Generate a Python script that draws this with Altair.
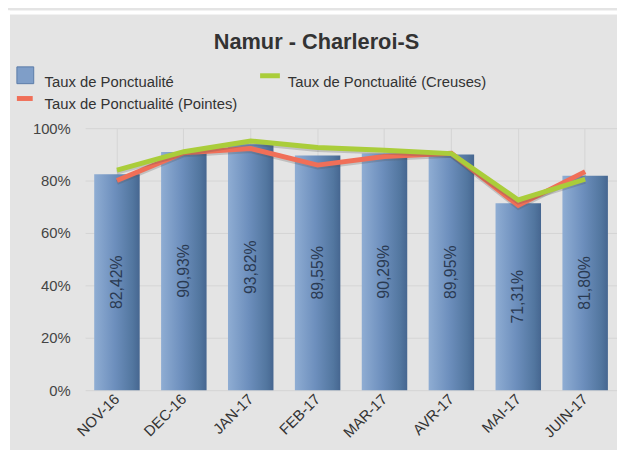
import altair as alt
import pandas as pd

months = ["NOV-16", "DEC-16", "JAN-17", "FEB-17", "MAR-17", "AVR-17", "MAI-17", "JUIN-17"]
taux = [82.42, 90.93, 93.82, 89.55, 90.29, 89.95, 71.31, 81.80]
creuses = [84.0, 91.0, 95.1, 92.6, 91.6, 90.3, 72.6, 80.5]
pointes = [80.0, 90.6, 92.2, 85.9, 89.2, 90.4, 70.5, 83.4]

title_txt = "Namur - Charleroi-S"
leg_bar = "Taux de Ponctualité"
leg_creuses = "Taux de Ponctualité (Creuses)"
leg_pointes = "Taux de Ponctualité (Pointes)"

GREEN = "#aacd3a"
RED = "#f06f58"

bars_df = pd.DataFrame({
    "mois": months,
    "v": [t / 100 for t in taux],
    "half": [t / 200 for t in taux],
    "lab": [f"{t:.2f}".replace(".", ",") + "%" for t in taux],
})
lines_df = pd.DataFrame({
    "mois": months * 2,
    "v": [c / 100 for c in creuses] + [p / 100 for p in pointes],
    "serie": ["Creuses"] * len(months) + ["Pointes"] * len(months),
})
one = pd.DataFrame({"a": [0]})

xscale = alt.Scale(domain=months, paddingInner=0.32, paddingOuter=0.136)
yscale = alt.Scale(domain=[0, 1], nice=False)

X = alt.X("mois:N", scale=xscale, sort=months, title=None,
          axis=alt.Axis(labelAngle=315, labelAlign="right", labelBaseline="middle",
                        labelFontSize=15, labelColor="#333333", labelPadding=6,
                        grid=True, bandPosition=0.5, gridColor="#d5d5d5",
                        domain=False, ticks=False, labelFont="Liberation Sans"))
Y = alt.Y("v:Q", scale=yscale, title=None,
          axis=alt.Axis(values=[i / 10 for i in range(11)],
                        labelExpr="round(datum.value*10) % 2 == 0 ? format(datum.value, '.0%') : ''",
                        labelFontSize=15, labelColor="#444444", labelPadding=15,
                        gridColor="#d5d5d5", domain=False, ticks=False,
                        labelFont="Liberation Sans"))

bars = alt.Chart(bars_df).mark_bar(
    color=alt.Gradient(gradient="linear",
                       stops=[alt.GradientStop(color="#8fadd3", offset=0),
                              alt.GradientStop(color="#6d8fbd", offset=0.45),
                              alt.GradientStop(color="#52769f", offset=0.85),
                              alt.GradientStop(color="#466690", offset=1)],
                       x1=0, x2=1, y1=0, y2=0)
).encode(x=X, y=Y)

labels = alt.Chart(bars_df).mark_text(
    angle=270, fontSize=16, color="#2a3a52", font="Liberation Sans",
    align="center", baseline="middle"
).encode(x=alt.X("mois:N", scale=xscale, sort=months),
         y=alt.Y("half:Q", scale=yscale), text="lab:N")

def line_layer(serie, color):
    base = alt.Chart(lines_df).transform_filter(alt.datum.serie == serie)
    shadow = base.mark_line(color="#555555", strokeWidth=5, opacity=0.25, yOffset=2).encode(
        x=alt.X("mois:N", scale=xscale, sort=months), y=alt.Y("v:Q", scale=yscale))
    ln = base.mark_line(color=color, strokeWidth=5).encode(
        x=alt.X("mois:N", scale=xscale, sort=months), y=alt.Y("v:Q", scale=yscale))
    return shadow + ln

red_lines = line_layer("Pointes", RED)
green_lines = line_layer("Creuses", GREEN)

title = alt.Chart(one).mark_text(
    text=title_txt, fontSize=22, fontWeight="bold", color="#333333",
    font="Liberation Sans", align="center", baseline="alphabetic"
).encode(x=alt.value(234), y=alt.value(-80))

leg_sq = alt.Chart(one).mark_square(size=289, color="#7f9ec8", stroke="#5b7ba8",
                                    strokeWidth=1, opacity=1).encode(
    x=alt.value(-60.5), y=alt.value(-53.5))
leg_t1 = alt.Chart(one).mark_text(text=leg_bar, fontSize=15, color="#333333",
                                  font="Liberation Sans", align="left").encode(
    x=alt.value(-41), y=alt.value(-47))
leg_g = alt.Chart(one).mark_rule(color=GREEN, strokeWidth=5).encode(
    x=alt.value(177), x2=alt.value(197), y=alt.value(-53))
leg_t2 = alt.Chart(one).mark_text(text=leg_creuses, fontSize=15, color="#333333",
                                  font="Liberation Sans", align="left").encode(
    x=alt.value(205), y=alt.value(-47))
leg_r = alt.Chart(one).mark_rule(color=RED, strokeWidth=5).encode(
    x=alt.value(-69), x2=alt.value(-53), y=alt.value(-30))
leg_t3 = alt.Chart(one).mark_text(text=leg_pointes, fontSize=15, color="#333333",
                                  font="Liberation Sans", align="left").encode(
    x=alt.value(-41), y=alt.value(-24))

strip_l = alt.Chart(one).mark_rect(color="white").encode(
    x=alt.value(-78), x2=alt.value(-76), y=alt.value(-119), y2=alt.value(330))
strip_t = alt.Chart(one).mark_rect(color="white").encode(
    x=alt.value(-78), x2=alt.value(540), y=alt.value(-119), y2=alt.value(-115))

chart = alt.layer(
    bars, labels, red_lines, green_lines,
    strip_l, strip_t, title, leg_sq, leg_t1, leg_g, leg_t2, leg_r, leg_t3
).properties(
    width=538, height=265,
    autosize=alt.AutoSizeParams(type="none"),
    padding={"left": 78, "top": 119, "right": 0, "bottom": 58},
    background="#e4e4e4",
).configure_view(stroke=None)

chart.save("out.html", embed_options={"renderer": "svg", "actions": False})
